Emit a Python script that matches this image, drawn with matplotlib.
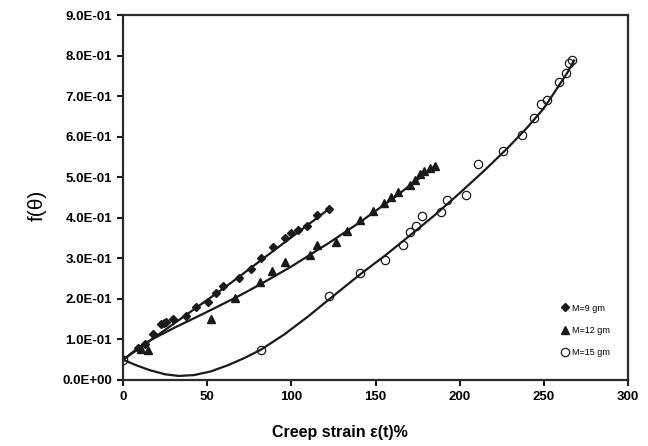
import matplotlib
matplotlib.use('Agg')
import matplotlib.pyplot as plt

x_9 = [9, 12.9, 17.8, 22.6, 24, 25.5, 29.7, 37.6, 43.6, 50.5, 55.3, 59.5, 69.1, 75.8, 81.8, 88.9,
       96.5, 100, 104, 109.5, 115, 122.2]
y_9 = [0.078, 0.09, 0.113, 0.138, 0.141, 0.143, 0.15, 0.158, 0.181, 0.193, 0.214, 0.231, 0.252, 0.273,
       0.302, 0.329, 0.351, 0.363, 0.37, 0.38, 0.407, 0.422]

x_12 = [10.5, 14.9, 52.3, 66.5, 81.6, 88.6, 96.3, 111, 115, 126.4, 133.3, 140.5, 148.7, 155.2, 159.1,
        163.3, 170.5, 173.5, 176.5, 179, 182.4, 185.4]
y_12 = [0.076, 0.073, 0.151, 0.202, 0.242, 0.268, 0.29, 0.309, 0.332, 0.341, 0.368, 0.395, 0.417, 0.437,
        0.452, 0.463, 0.481, 0.493, 0.509, 0.516, 0.522, 0.528]

x_15 = [0, 81.8, 122.2, 140.8, 155.7, 166.6, 170.5, 174.1, 177.7, 188.8, 192.6, 203.8, 211, 226, 237.3,
        244.4, 248.2, 252, 259.3, 263.2, 265.2, 266.8]
y_15 = [0.049, 0.074, 0.207, 0.263, 0.296, 0.334, 0.366, 0.38, 0.404, 0.415, 0.444, 0.456, 0.532, 0.565,
        0.605, 0.646, 0.682, 0.69, 0.735, 0.758, 0.782, 0.79]

# trend lines
fit9_x = [0, 62, 123]
fit9_y = [0.05, 0.233, 0.424]

fit12_x = [0, 8, 17, 30, 45, 57.6, 70, 82, 100, 123, 141, 163, 186]
fit12_y = [0.05, 0.076, 0.1, 0.128, 0.158, 0.184, 0.21, 0.237, 0.28, 0.34, 0.39, 0.456, 0.53]

fit15_x = [0, 8, 16, 25, 33, 42, 52, 62, 72, 82, 96, 110, 123, 141, 156, 170, 185, 200, 215, 228,
           240, 250, 258, 264, 268]
fit15_y = [0.05, 0.036, 0.024, 0.014, 0.010, 0.012, 0.021, 0.036, 0.054, 0.075, 0.113, 0.157, 0.201,
           0.261, 0.308, 0.355, 0.406, 0.461, 0.518, 0.570, 0.622, 0.670, 0.72, 0.758, 0.788]

labels = ['M=9 gm', 'M=12 gm', 'M=15 gm']
xticks = [0, 50, 100, 150, 200, 250, 300]
yticks = [0.0, 0.1, 0.2, 0.3, 0.4, 0.5, 0.6, 0.7, 0.8, 0.9]
ytick_labels = ['0.0E+00', '1.0E-01', '2.0E-01', '3.0E-01', '4.0E-01', '5.0E-01',
                '6.0E-01', '7.0E-01', '8.0E-01', '9.0E-01']

plt.rcParams['font.family'] = ['Liberation Sans', 'DejaVu Sans']

fig = plt.figure(figsize=(6.48, 4.46), dpi=100)
ax = fig.add_axes([0.190, 0.148, 0.779, 0.818])

lc = '#1a1a1a'
ax.plot(fit9_x, fit9_y, color=lc, lw=1.6, zorder=2)
ax.plot(fit12_x, fit12_y, color=lc, lw=1.6, zorder=2)
ax.plot(fit15_x, fit15_y, color=lc, lw=1.6, zorder=2)

h1, = ax.plot(x_9, y_9, 'D', color=lc, ms=4.5, ls='none', zorder=3, label=labels[0])
h2, = ax.plot(x_12, y_12, '^', color=lc, ms=6, ls='none', zorder=3, label=labels[1])
h3, = ax.plot(x_15, y_15, 'o', mfc='none', mec=lc, mew=0.9, ms=6, ls='none', zorder=3, label=labels[2])

ax.set_xlim(0, 300)
ax.set_ylim(0, 0.9)
ax.set_xticks(xticks)
ax.set_xticklabels([str(t) for t in xticks], fontweight='bold', fontsize=9.5)
ax.set_yticks(yticks)
ax.set_yticklabels(ytick_labels, fontweight='bold', fontsize=9.5)
ax.tick_params(direction='out', length=4, width=1.5, color=lc, pad=4)

for s in ax.spines.values():
    s.set_linewidth(1.6)
    s.set_color('#2a2a2a')

fig.text(340 / 648, 1 - 433 / 446, 'Creep strain ε(t)%', ha='center', va='center',
         fontsize=11.5, fontweight='bold')
fig.text(37 / 648, 1 - 205 / 446, 'f(θ)', ha='center', va='center', rotation=90, fontsize=15)

leg = ax.legend(handles=[h1, h2, h3], loc='upper left', bbox_to_anchor=(557 / 648, 1 - 300 / 446),
                bbox_transform=fig.transFigure, frameon=False, fontsize=6.5, handlelength=1.0,
                handletextpad=0.3, labelspacing=1.45, borderaxespad=0)

fig.savefig('out.png', dpi=100)
